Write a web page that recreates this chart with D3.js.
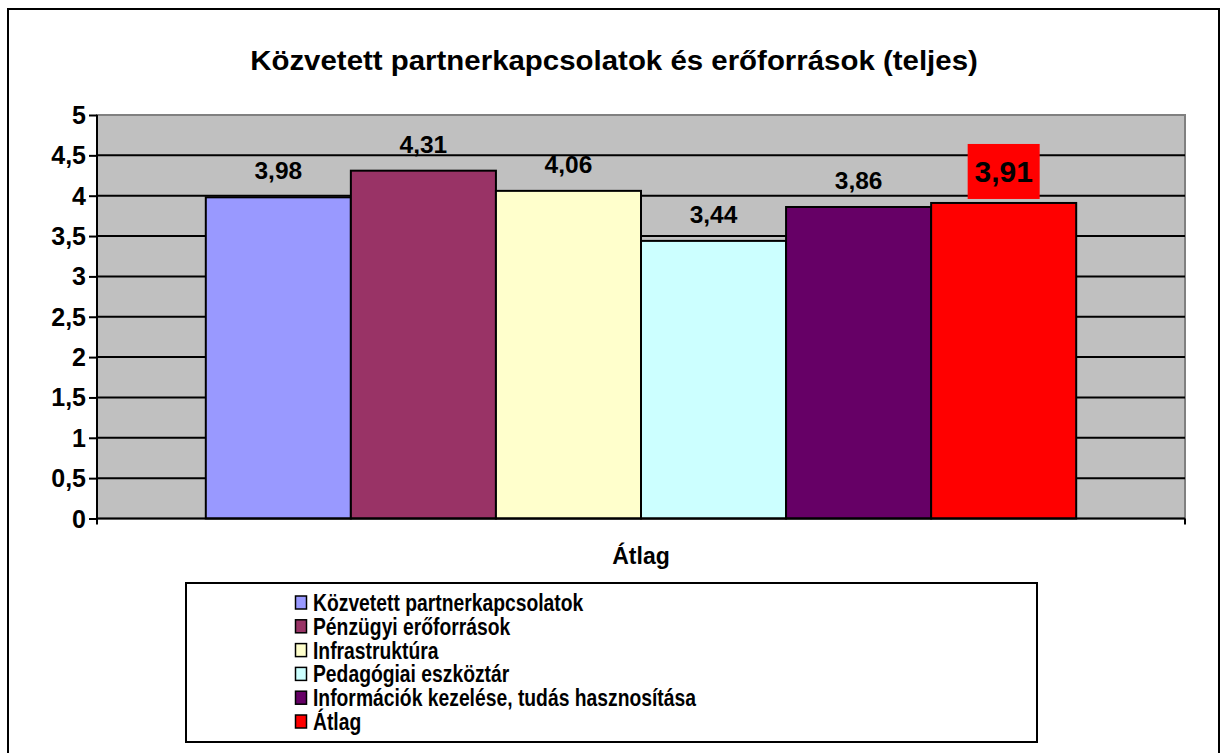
<!doctype html>
<html lang="hu">
<head>
  <meta charset="utf-8">
  <title>Közvetett partnerkapcsolatok és erőforrások (teljes)</title>
  <script src="https://d3js.org/d3.v7.min.js"></script>
<style>
body { margin: 0; background: #fff; }
svg text { font-family: Arial, "Liberation Sans", sans-serif; font-weight: bold; fill: #000; }
</style>
</head>
<body>
<div class="chart"></div>
<script>
  // data
  let categories = ['Közvetett partnerkapcsolatok', 'Pénzügyi erőforrások', 'Infrastruktúra',
                    'Pedagógiai eszköztár', 'Információk kezelése, tudás hasznosítása', 'Átlag'];
  let values = [3.98, 4.31, 4.06, 3.44, 3.86, 3.91];
  let colors = ['#9999ff', '#993366', '#ffffcc', '#ccffff', '#660066', '#ff0000'];
  let yTicks = [0, 0.5, 1, 1.5, 2, 2.5, 3, 3.5, 4, 4.5, 5];
  let groupLabel = 'Átlag';

  let W = 1221, H = 753;
  let svg = d3.select('.chart').append('svg').attr('width', W).attr('height', H);

  // outer chart frame
  svg.append('rect').attr('x', 8).attr('y', 9).attr('width', 1211).attr('height', 760)
    .attr('fill', '#fff').attr('stroke', '#000').attr('stroke-width', 2);

  svg.append('text').attr('transform', 'translate(614,70) scale(1.09,1)').attr('text-anchor', 'middle')
    .style('font-size', '27px').text('Közvetett partnerkapcsolatok és erőforrások (teljes)');

  let plot = {left: 97, top: 115, right: 1185, bottom: 518.5};

  let y = d3.scaleLinear().domain([0, 5]).range([plot.bottom, plot.top]);
  let outer = d3.scaleBand().domain([groupLabel]).range([plot.left, plot.right])
    .paddingInner(0).paddingOuter(0);
  // excel gap width 150%: bars take 6 / 7.5 of the category
  let gw = outer.bandwidth();
  let inner = d3.scaleBand().domain(categories)
    .range([plot.left + gw * 0.75 / 7.5, plot.right - gw * 0.75 / 7.5]);

  // plot background
  svg.append('rect').attr('x', plot.left).attr('y', plot.top)
    .attr('width', plot.right - plot.left).attr('height', plot.bottom - plot.top)
    .attr('fill', '#c0c0c0').attr('stroke', '#808080').attr('stroke-width', 2);

  // gridlines
  svg.append('g').selectAll('line').data(yTicks.filter(d => d > 0 && d < 5)).enter()
    .append('line')
    .attr('x1', plot.left).attr('x2', plot.right)
    .attr('y1', d => y(d)).attr('y2', d => y(d))
    .attr('stroke', '#000').attr('stroke-width', 2);

  // bars
  svg.append('g').selectAll('rect').data(values).enter()
    .append('rect')
    .attr('x', (d, i) => inner(categories[i]))
    .attr('y', d => y(d))
    .attr('width', inner.bandwidth())
    .attr('height', d => y(0) - y(d))
    .attr('fill', (d, i) => colors[i])
    .attr('stroke', '#000').attr('stroke-width', 2);

  // y axis
  let yAxis = svg.append('g').attr('transform', 'translate(' + plot.left + ',0)')
    .call(d3.axisLeft(y).tickValues(yTicks).tickSize(8).tickPadding(3)
      .tickFormat(d => String(d).replace('.', ',')));
  yAxis.select('.domain').attr('stroke', '#000').attr('stroke-width', 2)
    .attr('d', 'M0,' + plot.top + 'V' + (plot.bottom + 5));
  yAxis.selectAll('.tick line').attr('stroke', '#000').attr('stroke-width', 2);
  yAxis.selectAll('.tick text').style('font-size', '25px').style('font-family', 'Arial, "Liberation Sans", sans-serif')
    .style('font-weight', 'bold').attr('fill', '#000').attr('dy', '0.34em');

  // x axis with ticks on category borders
  let xAxis = svg.append('g').attr('transform', 'translate(0,' + plot.bottom + ')');
  xAxis.append('line').attr('x1', plot.left).attr('x2', plot.right)
    .attr('stroke', '#000').attr('stroke-width', 2);
  xAxis.selectAll('.edge').data([plot.left, plot.right]).enter()
    .append('line').attr('class', 'edge')
    .attr('x1', d => d).attr('x2', d => d).attr('y1', 0).attr('y2', 6)
    .attr('stroke', '#000').attr('stroke-width', 2);
  xAxis.append('text').attr('x', outer(groupLabel) + gw / 2).attr('y', 45)
    .attr('text-anchor', 'middle').style('font-size', '23px').text(groupLabel);

  // value labels
  let labels = svg.append('g');
  values.forEach(function(v, i) {
    let cx = inner(categories[i]) + inner.bandwidth() / 2;
    let txt = String(v.toFixed(2)).replace('.', ',');
    if (i === values.length - 1) {
      labels.append('rect').attr('x', cx - 36).attr('y', y(v) - 59)
        .attr('width', 72).attr('height', 55).attr('fill', '#ff0000');
      labels.append('text').attr('x', cx).attr('y', y(v) - 21)
        .attr('text-anchor', 'middle').style('font-size', '30px').text(txt);
    } else {
      labels.append('text').attr('x', cx).attr('y', y(v) - 18)
        .attr('text-anchor', 'middle').style('font-size', '24.5px').text(txt);
    }
  });

  // legend
  let legend = svg.append('g');
  legend.append('rect').attr('x', 186).attr('y', 583).attr('width', 851).attr('height', 159)
    .attr('fill', '#fff').attr('stroke', '#000').attr('stroke-width', 2);
  let items = legend.selectAll('.item').data(categories).enter()
    .append('g').attr('class', 'item')
    .attr('transform', (d, i) => 'translate(295,' + (603 + i * 23.8) + ')');
  items.append('rect').attr('x', 0.5).attr('y', -7).attr('width', 11).attr('height', 13)
    .attr('fill', (d, i) => colors[i]).attr('stroke', '#000').attr('stroke-width', 1.5);
  items.append('text').attr('transform', 'translate(18,8) scale(0.84,1)')
    .style('font-size', '23px').text(d => d);
</script>
</body>
</html>
